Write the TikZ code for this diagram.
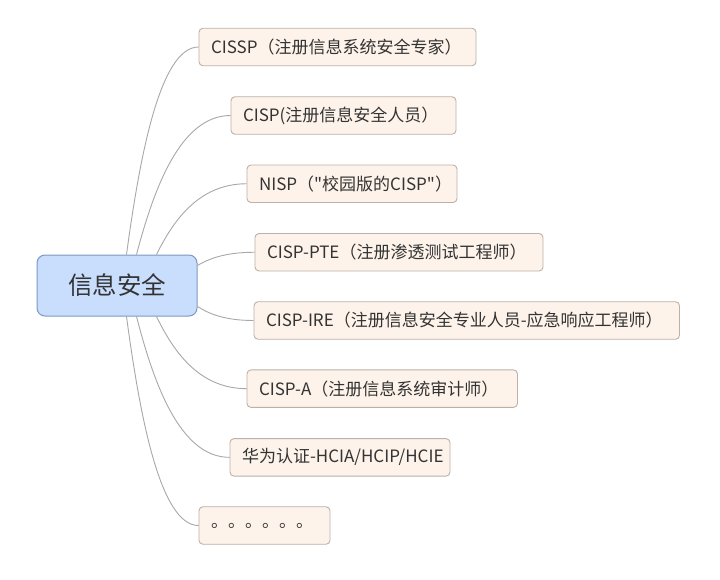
\documentclass[tikz,border=0pt]{standalone}
\usepackage{fontspec}
\newfontfamily\cjkfont{Noto Sans CJK SC}
\usetikzlibrary{calc}
\definecolor{rootfill}{HTML}{C9DDFD}
\definecolor{rootdraw}{HTML}{7F97C2}
\definecolor{leaffill}{HTML}{FDF3EA}
\definecolor{leafdraw}{HTML}{BBB1A8}
\definecolor{linkc}{HTML}{A8A8A8}
\definecolor{txt}{HTML}{333333}
\tikzset{
  rootbox/.style={draw=rootdraw, fill=rootfill, rounded corners=8pt, line width=1pt,
    minimum width=160pt, minimum height=61pt, inner sep=0pt, text=txt,
    font=\cjkfont\fontsize{24.5pt}{28pt}\selectfont},
  leaf/.style={draw=leafdraw, fill=leaffill, rounded corners=4pt, line width=0.9pt,
    inner xsep=12pt, inner ysep=0pt, minimum height=37.5pt, align=left, text=txt,
    font=\cjkfont\fontsize{17pt}{20pt}\selectfont},
  link/.style={draw=linkc, line width=0.9pt},
  branch/.style={to path={let \p1=(\tikztostart), \p2=(\tikztotarget) in
    .. controls ({\x1+0.18*(\x2-\x1)},{\y1+0.46*(\y2-\y1)}) and ({\x2-0.54*(\x2-\x1)},{\y2}) .. (\tikztotarget)}}
}
\begin{document}
\begin{tikzpicture}[x=1pt,y=-1pt]
\useasboundingbox (0,0) rectangle (720,579);
\fill[white] (0,0) rectangle (720,579);

\node[rootbox] (root) at (117,285.5) {信息安全};

\node[leaf, text width=253pt] (c1) at (337.5,47) {\mbox{CISSP（注册信息系统安全专家）}};
\node[leaf, text width=201pt] (c2) at (343.5,115.5) {\mbox{CISP(注册信息安全人员）}};
\node[leaf, text width=186pt] (c3) at (352,183.75) {\mbox{NISP（"校园版的CISP"）}};
\node[leaf, text width=264pt] (c4) at (399,252.25) {\mbox{CISP-PTE（注册渗透测试工程师）}};
\node[leaf, text width=401.5pt] (c5) at (466.75,320.5) {\mbox{CISP-IRE（注册信息安全专业人员-应急响应工程师）}};
\node[leaf, text width=246.5pt] (c6) at (382.25,388.65) {\mbox{CISP-A（注册信息系统审计师）}};
\node[leaf, text width=196pt] (c7) at (340,457.35) {\mbox{华为认证-HCIA/HCIP/HCIE}};
\node[leaf, text width=107pt] (c8) at (264.5,525.5) {\mbox{。。。。。。}};

\coordinate (s1) at ($(root.north west)+(90,0)$);
\coordinate (s2) at ($(root.north west)+(100,0)$);
\coordinate (s3) at ($(root.north west)+(120,0)$);
\coordinate (s4) at ($(root.east)+(0,-20)$);
\coordinate (s5) at ($(root.east)+(0,21)$);
\coordinate (s6) at ($(root.south west)+(120,0)$);
\coordinate (s7) at ($(root.south west)+(100,0)$);
\coordinate (s8) at ($(root.south west)+(90,0)$);

\draw[link] (s1) to[branch] (c1.west);
\draw[link] (s2) to[branch] (c2.west);
\draw[link] (s3) to[branch] (c3.west);
\draw[link] (s4) to[branch] (c4.west);
\draw[link] (s5) to[branch] (c5.west);
\draw[link] (s6) to[branch] (c6.west);
\draw[link] (s7) to[branch] (c7.west);
\draw[link] (s8) to[branch] (c8.west);
\end{tikzpicture}
\end{document}
